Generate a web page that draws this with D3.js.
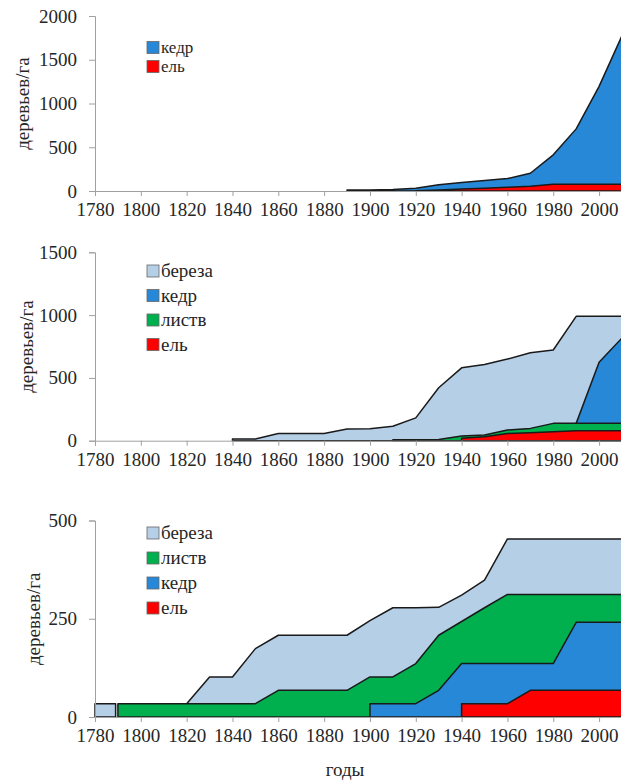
<!DOCTYPE html>
<html>
<head>
<meta charset='utf-8'>
<script src='https://d3js.org/d3.v7.min.js'></script>
</head>
<body style='margin:0'>
<svg id='chart' width='621' height='783' font-family='Liberation Serif'></svg>
<script>
var xTicks = [1780, 1800, 1820, 1840, 1860, 1880, 1900, 1920, 1940, 1960, 1980, 2000];

// panel 1
var years1 = [1890, 1900, 1910, 1920, 1930, 1940, 1950, 1960, 1970, 1980, 1990, 2000, 2010];
var el1    = [null, null, null, 3, 12, 22, 32, 42, 55, 76, 76, 76, 76];
var kedr1  = [12, 12, 18, 28, 60, 74, 88, 100, 148, 337, 634, 1120, 1700];
var yTicks1 = [0, 500, 1000, 1500, 2000];

// panel 2
var years2  = [1840, 1850, 1860, 1870, 1880, 1890, 1900, 1910, 1920, 1930, 1940, 1950, 1960, 1970, 1980, 1990, 2000, 2010];
var bereza2 = [13, 13, 58, 58, 58, 93, 95, 107, 174, 412, 543, 561, 565, 602, 584, 852, 365, 172];
var kedr2   = [null, null, null, null, null, null, null, null, null, null, null, null, null, null, null, 0, 487, 680];
var listv2  = [null, null, null, null, null, null, null, 8, 8, 10, 18, 13, 27, 34, 66, 58, 58, 58];
var el2     = [null, null, null, null, null, null, null, null, null, null, 19, 32, 58, 64, 72, 80, 80, 80];
var yTicks2 = [0, 500, 1000, 1500];

// panel 3
var years3  = [1780, 1789, 1790, 1800, 1810, 1820, 1830, 1840, 1850, 1860, 1870, 1880, 1890, 1900, 1910, 1920, 1930, 1940, 1950, 1960, 1970, 1980, 1990, 2000, 2010];
var bereza3 = [34, 34, null, null, null, 0, 68, 68, 140, 140, 140, 140, 140, 143, 176, 142, 71, 67, 70, 141, 141, 141, 141, 141, 141];
var listv3  = [null, null, 34, 34, 34, 34, 34, 34, 34, 68, 68, 68, 68, 68, 68, 102, 140, 107, 142, 176, 176, 176, 71, 71, 71];
var kedr3   = [null, null, null, null, null, null, null, null, null, null, null, null, null, 34, 34, 34, 68, 102, 102, 102, 68, 68, 173, 173, 173];
var el3     = [null, null, null, null, null, null, null, null, null, null, null, null, null, null, null, null, null, 34, 34, 34, 68, 68, 68, 68, 68];
var yTicks3 = [0, 250, 500];

var colors = {'береза': '#b5cfe7', 'кедр': '#2688d6', 'листв': '#00b04f', 'ель': '#ff0000'};

var svg = d3.select('#chart');
var x = d3.scaleLinear().domain([1780, 2010]).range([95, 622]);

function label(sel, size) {
  return sel.attr('font-size', size || 19).
      attr('font-family', 'Liberation Serif').
      attr('fill', '#262626').
      style('font-family', "'Liberation Serif'");
}

function panel(cfg) {
  var g = svg.append('g');
  var y = d3.scaleLinear().domain([0, cfg.max]).range([cfg.bottom, cfg.top]);

  // table for the stack, bottom series first
  var rows = cfg.years.map(function(yr, i) {
    var r = {year: yr};
    cfg.series.forEach(function(s) { r[s.name] = s.values[i]; });
    return r;
  });
  var keys = cfg.series.map(function(s) { return s.name; });
  var stacked = d3.stack().keys(keys).
      value(function(d, k) { return d[k] == null ? 0 : d[k]; })(rows);

  // each layer filled from zero to its running total, top layer painted first,
  // so a layer that starts later gets a straight vertical edge
  stacked.slice().reverse().forEach(function(layer) {
    var area = d3.area().
        defined(function(d, i) { return rows[i][layer.key] != null; }).
        x(function(d, i) { return x(rows[i].year); }).
        y0(y(0)).
        y1(function(d) { return y(d[1]); });
    g.append('path').
        datum(layer).
        attr('fill', colors[layer.key]).
        attr('stroke', '#1a1a1a').
        attr('stroke-width', 1.5).
        attr('stroke-linejoin', 'round').
        attr('d', area);
  });

  var xAxis = g.append('g').
      attr('transform', 'translate(0,' + cfg.bottom + ')').
      call(d3.axisBottom(x).tickValues(xTicks).tickFormat(d3.format('d')).tickSizeOuter(0).tickSize(5).tickPadding(7));
  xAxis.attr('font-family', 'Liberation Serif');
  xAxis.selectAll('path, line').attr('stroke', '#a0a0a0');
  label(xAxis.selectAll('text'), 19);

  var yAxis = g.append('g').
      attr('transform', 'translate(95,0)').
      call(d3.axisLeft(y).tickValues(cfg.yTicks).tickFormat(d3.format('d')).tickSizeOuter(0).tickSize(6).tickPadding(12));
  yAxis.attr('font-family', 'Liberation Serif');
  yAxis.selectAll('path, line').attr('stroke', '#a0a0a0');
  label(yAxis.selectAll('text'), 19);

  label(g.append('text').
      attr('transform', 'translate(' + cfg.labelX + ',' + ((cfg.top + cfg.bottom) / 2) + ') rotate(-90)').
      attr('text-anchor', 'middle').
      attr('dy', '0.35em').
      text('деревьев/га'), 19);

  // legend
  cfg.legend.forEach(function(name, i) {
    var ly = cfg.legendY + i * cfg.legendStep;
    g.append('rect').
        attr('x', 147).attr('y', ly - 6).
        attr('width', 12).attr('height', 12).
        attr('fill', colors[name]).
        attr('stroke', '#666').attr('stroke-width', 0.8);
    label(g.append('text').
        attr('x', 161).attr('y', ly).
        attr('dy', '0.33em').
        text(name), cfg.legendSize);
  });
}

panel({years: years1, max: 2000, top: 16, bottom: 191, yTicks: yTicks1, labelX: 22,
  series: [{name: 'ель', values: el1}, {name: 'кедр', values: kedr1}],
  legend: ['кедр', 'ель'], legendY: 47.5, legendStep: 19, legendSize: 17});

panel({years: years2, max: 1500, top: 252.3, bottom: 440.7, yTicks: yTicks2, labelX: 26,
  series: [{name: 'ель', values: el2}, {name: 'листв', values: listv2},
           {name: 'кедр', values: kedr2}, {name: 'береза', values: bereza2}],
  legend: ['береза', 'кедр', 'листв', 'ель'], legendY: 271, legendStep: 24.5, legendSize: 19});

panel({years: years3, max: 500, top: 520.5, bottom: 717, yTicks: yTicks3, labelX: 33,
  series: [{name: 'ель', values: el3}, {name: 'кедр', values: kedr3},
           {name: 'листв', values: listv3}, {name: 'береза', values: bereza3}],
  legend: ['береза', 'листв', 'кедр', 'ель'], legendY: 533, legendStep: 25, legendSize: 19});

label(svg.append('text').
    attr('x', 345).attr('y', 770).
    attr('text-anchor', 'middle').
    attr('dy', '0.33em').
    text('годы'), 19);
</script>
</body>
</html>
